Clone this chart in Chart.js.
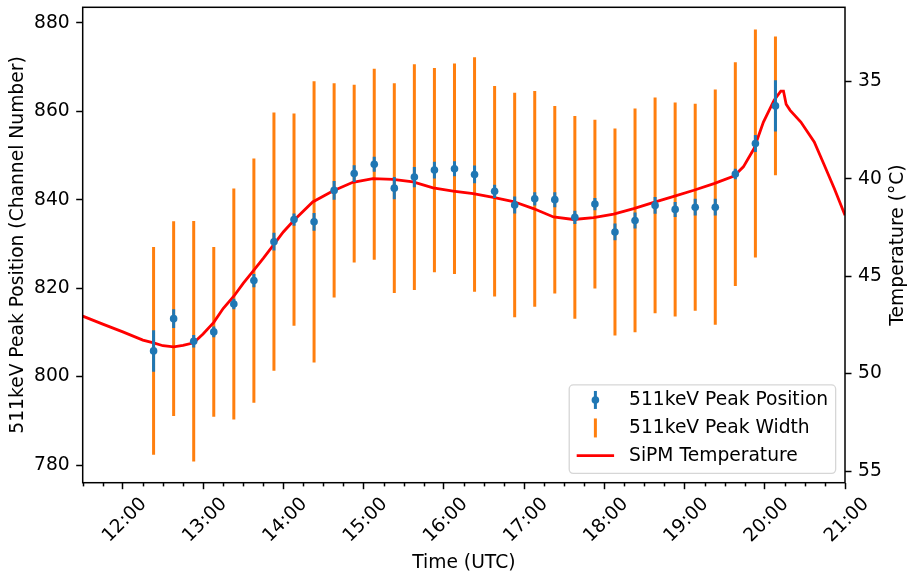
<!DOCTYPE html>
<html>
<head>
<meta charset="utf-8">
<script src="https://cdn.jsdelivr.net/npm/chart.js@4.4.0/dist/chart.umd.min.js"></script>
<style>
  body { margin: 0; background: #fff; }
  #wrap { width: 912px; height: 574px; }
</style>
</head>
<body>
<div id="wrap"><canvas id="chart" width="912" height="574"></canvas></div>
<script>
'use strict'
// measurement times (UTC), one every 15 min
const pointTimes = ['12:23', '12:38', '12:53', '13:08', '13:23', '13:38', '13:53', '14:08',
  '14:23', '14:38', '14:53', '15:08', '15:23', '15:38', '15:53', '16:08',
  '16:23', '16:38', '16:53', '17:08', '17:23', '17:38', '17:53', '18:08',
  '18:23', '18:38', '18:53', '19:08', '19:23', '19:38', '19:53', '20:08'];
const peakPosition = [805.8, 813.1, 808.0, 810.1, 816.4, 821.7, 830.5, 835.5,
  835.0, 842.1, 845.9, 848.0, 842.6, 845.1, 846.7, 847.0,
  845.7, 841.9, 838.8, 840.2, 840.0, 836.0, 839.0, 832.7,
  835.3, 838.7, 837.8, 838.3, 838.3, 845.8, 852.7, 861.2];
const peakPositionErr = [4.7, 2.1, 1.4, 1.2, 1.2, 1.5, 2.0, 1.4,
  2.0, 2.1, 1.9, 1.7, 2.5, 2.3, 1.9, 1.7,
  2.0, 1.5, 1.9, 1.5, 1.7, 1.5, 1.4, 1.9,
  1.8, 1.9, 1.7, 1.9, 1.9, 1.2, 1.9, 5.8];
const peakWidth = [23.5, 22.0, 27.2, 19.2, 26.1, 27.6, 29.2, 24.0,
  31.8, 24.2, 20.1, 21.6, 23.7, 25.5, 23.1, 23.8,
  26.5, 23.8, 25.4, 24.4, 21.2, 22.9, 19.1, 23.4,
  25.3, 24.4, 24.2, 23.4, 26.6, 25.3, 25.8, 15.7];

const tempTimes = ['11:30', '11:45', '12:00', '12:15', '12:23', '12:30', '12:38', '12:45',
  '12:53', '13:00', '13:08', '13:15', '13:23', '13:30', '13:38', '13:45',
  '13:53', '14:00', '14:08', '14:22', '14:37', '14:52', '15:07', '15:22',
  '15:37', '15:52', '16:07', '16:22', '16:37', '16:52', '17:07', '17:22',
  '17:37', '17:52', '18:07', '18:22', '18:37', '18:52', '19:07', '19:22',
  '19:37', '19:44', '19:52', '19:59', '20:07', '20:12', '20:14', '20:16',
  '20:19', '20:27', '20:37', '20:44', '20:52', '21:00'];
const sipmTemp = [47.05, 47.46, 47.86, 48.28, 48.42, 48.57, 48.63, 48.55,
  48.42, 47.97, 47.37, 46.66, 46.03, 45.37, 44.69, 44.09,
  43.37, 42.73, 42.13, 41.19, 40.63, 40.18, 39.99, 40.03,
  40.16, 40.47, 40.63, 40.76, 40.96, 41.17, 41.53, 41.96,
  42.09, 41.99, 41.82, 41.53, 41.21, 40.90, 40.59, 40.25,
  39.86, 39.39, 38.45, 37.09, 35.97, 35.50, 35.50, 36.18,
  36.49, 37.09, 38.11, 39.22, 40.50, 41.87];

const hourTicks = [12, 13, 14, 15, 16, 17, 18, 19, 20, 21];
const countTicks = [780, 800, 820, 840, 860, 880];
const tempTicks = [35, 40, 45, 50, 55];
const legendLabels = ['511keV Peak Position', '511keV Peak Width', 'SiPM Temperature'];

const BLUE = '#1f77b4';
const ORANGE = '#ff7f0e';
const RED = '#ff0000';
const FONT = 18.7;

function toHours(t) {
  const [h, m] = t.split(':').map(Number);
  return h + m / 60;
}

Chart.defaults.font.family = 'DejaVu Sans';
Chart.defaults.font.size = FONT;
Chart.defaults.color = '#000';

const widthBars = pointTimes.map((t, i) => ({ x: toHours(t), y: [peakPosition[i] - peakWidth[i], peakPosition[i] + peakWidth[i]] }));
const errBars = pointTimes.map((t, i) => ({ x: toHours(t), y: [peakPosition[i] - peakPositionErr[i], peakPosition[i] + peakPositionErr[i]] }));
const points = pointTimes.map((t, i) => ({ x: toHours(t), y: peakPosition[i] }));
const tempLine = tempTimes.map((t, i) => ({ x: toHours(t), y: sipmTemp[i] }));

// frame, minor ticks, right title and a matplotlib style legend
const decorations = {
  id: 'decorations',
  afterDraw(chart) {
    const ctx = chart.ctx;
    const area = chart.chartArea;
    const xs = chart.scales.x;
    ctx.save();
    ctx.strokeStyle = '#000';
    ctx.lineWidth = 1.5;
    for (let t = 11.5; t <= 21; t += 0.25) {
      if (t % 1 === 0) continue;
      const px = Math.round(xs.getPixelForValue(t)) + 0.5;
      ctx.beginPath();
      ctx.moveTo(px, area.bottom);
      ctx.lineTo(px, area.bottom + 3.7);
      ctx.stroke();
    }
    ctx.strokeRect(area.left, area.top, area.right - area.left, area.bottom - area.top);

    ctx.fillStyle = '#000';
    ctx.font = FONT + 'px "DejaVu Sans"';
    ctx.translate(898, (area.top + area.bottom) / 2);
    ctx.rotate(-Math.PI / 2);
    ctx.textAlign = 'center';
    ctx.textBaseline = 'middle';
    ctx.fillText('Temperature (°C)', 0, 0);
    ctx.restore();

    // legend
    ctx.save();
    ctx.font = FONT + 'px "DejaVu Sans"';
    let textW = 0;
    legendLabels.forEach(l => { textW = Math.max(textW, ctx.measureText(l).width); });
    const pad = 0.4 * FONT;
    const right = area.right - 0.5 * FONT;
    const bottom = area.bottom - 0.5 * FONT;
    const w = pad + 2 * FONT + 0.8 * FONT + textW + pad;
    const h = 88.4;
    const left = right - w;
    const top = bottom - h;
    ctx.beginPath();
    ctx.roundRect(left, top, w, h, 4);
    ctx.fillStyle = 'rgba(255,255,255,0.8)';
    ctx.fill();
    ctx.strokeStyle = 'rgba(204,204,204,0.8)';
    ctx.lineWidth = 1.3;
    ctx.stroke();

    const hx = left + pad + FONT;
    const tx = left + pad + 2.8 * FONT;
    const rows = [top + 15, top + 43, top + 70.7];
    ctx.lineWidth = 3;
    ctx.strokeStyle = BLUE;
    ctx.beginPath();
    ctx.moveTo(hx, rows[0] - 9);
    ctx.lineTo(hx, rows[0] + 9);
    ctx.stroke();
    ctx.fillStyle = BLUE;
    ctx.beginPath();
    ctx.arc(hx, rows[0], 3.8, 0, Math.PI * 2);
    ctx.fill();
    ctx.strokeStyle = ORANGE;
    ctx.beginPath();
    ctx.moveTo(hx, rows[1] - 9.5);
    ctx.lineTo(hx, rows[1] + 9.5);
    ctx.stroke();
    ctx.strokeStyle = RED;
    ctx.lineWidth = 2.8;
    ctx.beginPath();
    ctx.moveTo(left + pad, rows[2]);
    ctx.lineTo(left + pad + 2 * FONT, rows[2]);
    ctx.stroke();

    ctx.fillStyle = '#000';
    ctx.textAlign = 'left';
    ctx.textBaseline = 'middle';
    legendLabels.forEach((l, i) => ctx.fillText(l, tx, rows[i]));
    ctx.restore();
  }
};

const tickGrid = {
  display: true,
  drawOnChartArea: false,
  tickLength: 6.5,
  tickWidth: 1.5,
  tickColor: '#000',
  offset: false
};

function fitY(width) {
  return s => {
    s.width = width;
    s.paddingTop = 0;
    s.paddingBottom = 0;
  };
}

new Chart(document.getElementById('chart'), {
  type: 'scatter',
  data: {
    datasets: [
      {
        type: 'bar',
        label: legendLabels[1],
        data: widthBars,
        backgroundColor: ORANGE,
        borderWidth: 0,
        barThickness: 3,
        grouped: false,
        inflateAmount: 0,
        yAxisID: 'y',
        order: 3
      },
      {
        type: 'line',
        label: legendLabels[2],
        data: tempLine,
        borderColor: RED,
        borderWidth: 2.8,
        pointRadius: 0,
        tension: 0,
        fill: false,
        yAxisID: 'yT',
        order: 2
      },
      {
        type: 'bar',
        label: 'err',
        data: errBars,
        backgroundColor: BLUE,
        borderWidth: 0,
        barThickness: 3,
        grouped: false,
        inflateAmount: 0,
        yAxisID: 'y',
        order: 1
      },
      {
        type: 'scatter',
        label: legendLabels[0],
        data: points,
        backgroundColor: BLUE,
        borderWidth: 0,
        pointRadius: 3.8,
        yAxisID: 'y',
        order: 0
      }
    ]
  },
  options: {
    responsive: false,
    animation: false,
    devicePixelRatio: 1,
    layout: { padding: { top: 7.3, left: 0, right: 0, bottom: 0 } },
    plugins: {
      legend: { display: false },
      tooltip: { enabled: false }
    },
    scales: {
      x: {
        type: 'linear',
        position: 'bottom',
        min: 11.5,
        max: 21,
        offset: false,
        grid: tickGrid,
        border: { display: false },
        ticks: {
          autoSkip: false,
          minRotation: 45,
          maxRotation: 45,
          padding: 4,
          labelOffset: 21,
          callback: v => v + ':00'
        },
        title: { display: true, text: 'Time (UTC)', padding: { top: 0, bottom: 0 } },
        afterBuildTicks: s => { s.ticks = hourTicks.map(v => ({ value: v })); },
        afterFit: s => {
          s.height = 574 - 482.7;
          s.paddingLeft = 0;
          s.paddingRight = 0;
        }
      },
      y: {
        type: 'linear',
        position: 'left',
        min: 776.0,
        max: 883.5,
        grid: tickGrid,
        border: { display: false },
        ticks: { padding: 6.5 },
        title: { display: true, text: '511keV Peak Position (Channel Number)', padding: { top: 7, bottom: 0 } },
        afterBuildTicks: s => { s.ticks = countTicks.map(v => ({ value: v })); },
        afterFit: fitY(82.7)
      },
      yT: {
        type: 'linear',
        position: 'right',
        reverse: true,
        min: 31.2,
        max: 55.6,
        grid: tickGrid,
        border: { display: false },
        ticks: { padding: 6.5 },
        afterBuildTicks: s => { s.ticks = tempTicks.map(v => ({ value: v })); },
        afterFit: fitY(912 - 845)
      }
    }
  },
  plugins: [decorations]
});
</script>
</body>
</html>
